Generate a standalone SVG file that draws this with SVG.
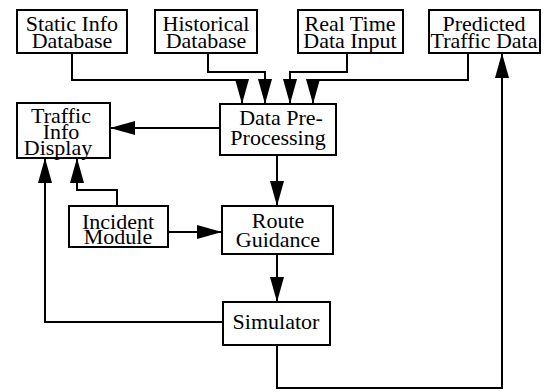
<svg xmlns="http://www.w3.org/2000/svg" width="549" height="392" viewBox="0 0 549 392">
  <style>
    .box { fill: #fff; stroke: #000; stroke-width: 2; }
    .lbl { font-family: "Liberation Serif", "Times New Roman", serif; font-size: 22px; fill: #000; text-anchor: middle; }
    .wire { fill: none; stroke: #000; stroke-width: 2; }
  </style>
  <defs>
    <marker id="head" markerUnits="userSpaceOnUse" markerWidth="26" markerHeight="16" refX="25" refY="7" orient="auto">
      <path d="M0,0 L25,7 L0,14 Z" fill="#000"/>
    </marker>
  </defs>

  <rect width="549" height="392" fill="#fff"/>

  <!-- connectors -->
  <g id="connectors">
    <path class="wire" d="M72,53 V80 H242 V104" marker-end="url(#head)"/>
    <path class="wire" d="M208,53 V72 H265 V104" marker-end="url(#head)"/>
    <path class="wire" d="M347,53 V72 H290 V104" marker-end="url(#head)"/>
    <path class="wire" d="M468,53 V80 H313 V104" marker-end="url(#head)"/>
    <path class="wire" d="M220,128 H110" marker-end="url(#head)"/>
    <path class="wire" d="M277,155 V206" marker-end="url(#head)"/>
    <path class="wire" d="M117,206 V190 H77 V158" marker-end="url(#head)"/>
    <path class="wire" d="M168,232 H222" marker-end="url(#head)"/>
    <path class="wire" d="M277,254 V302" marker-end="url(#head)"/>
    <path class="wire" d="M223,322 H45 V158" marker-end="url(#head)"/>
    <path class="wire" d="M277,345 V388 H502 V53" marker-end="url(#head)"/>
  </g>

  <!-- nodes -->
  <g id="static-info">
    <rect class="box" x="17" y="10" width="110" height="43"/>
    <text class="lbl" x="72" y="31">Static Info</text>
    <text class="lbl" x="72" y="48">Database</text>
  </g>
  <g id="historical">
    <rect class="box" x="155" y="10" width="102" height="43"/>
    <text class="lbl" x="206" y="31">Historical</text>
    <text class="lbl" x="206" y="48">Database</text>
  </g>
  <g id="real-time">
    <rect class="box" x="298" y="10" width="105" height="43"/>
    <text class="lbl" x="350" y="31">Real Time</text>
    <text class="lbl" x="350" y="48">Data Input</text>
  </g>
  <g id="predicted">
    <rect class="box" x="429" y="10" width="111" height="43"/>
    <text class="lbl" x="484" y="31">Predicted</text>
    <text class="lbl" x="484" y="48">Traffic Data</text>
  </g>
  <g id="traffic-display">
    <rect class="box" x="17" y="103" width="93" height="55"/>
    <text class="lbl" x="61" y="123">Traffic</text>
    <text class="lbl" x="61" y="139">Info</text>
    <text class="lbl" x="58" y="155">Display</text>
  </g>
  <g id="preprocessing">
    <rect class="box" x="220" y="104" width="116" height="51"/>
    <text class="lbl" x="281" y="125">Data Pre-</text>
    <text class="lbl" x="278" y="145">Processing</text>
  </g>
  <g id="incident">
    <rect class="box" x="69" y="206" width="99" height="41"/>
    <text class="lbl" x="118" y="229">Incident</text>
    <text class="lbl" x="118" y="244">Module</text>
  </g>
  <g id="route-guidance">
    <rect class="box" x="222" y="206" width="111" height="48"/>
    <text class="lbl" x="278" y="228">Route</text>
    <text class="lbl" x="278" y="247">Guidance</text>
  </g>
  <g id="simulator">
    <rect class="box" x="223" y="302" width="107" height="43"/>
    <text class="lbl" x="276" y="329">Simulator</text>
  </g>
</svg>
